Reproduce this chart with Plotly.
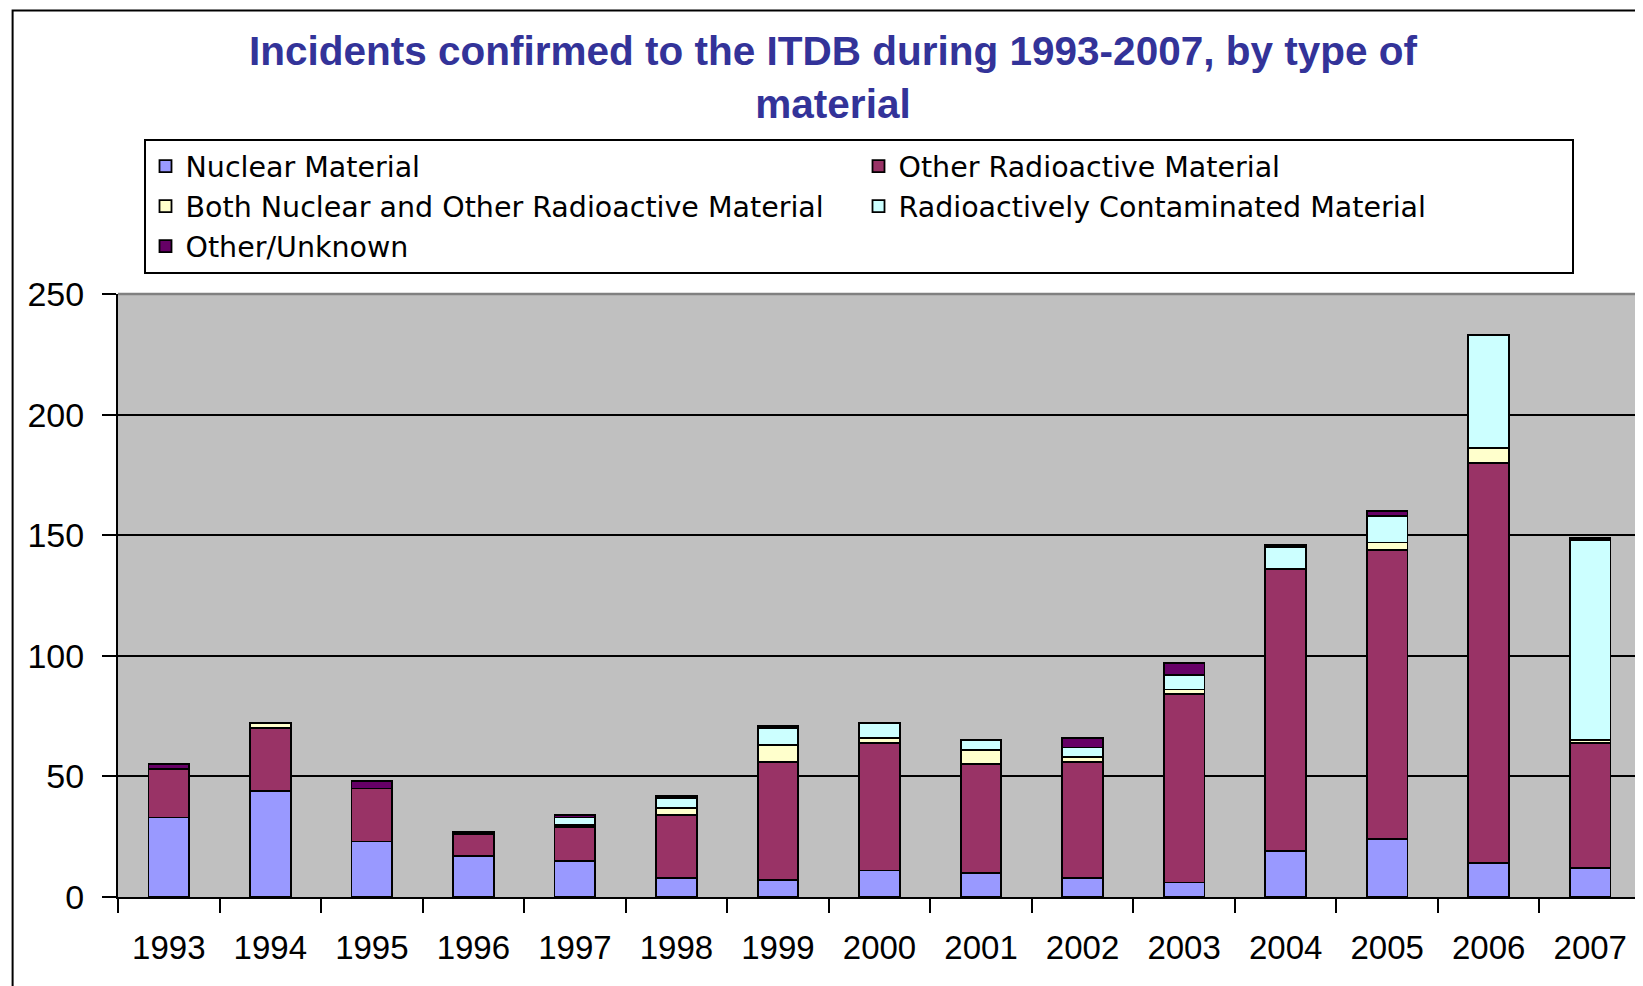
import plotly.graph_objects as go

years = ["1993", "1994", "1995", "1996", "1997", "1998", "1999", "2000",
         "2001", "2002", "2003", "2004", "2005", "2006", "2007"]
nuclear = [33, 44, 23, 17, 15, 8, 7, 11, 10, 8, 6, 19, 24, 14, 12]
other_radioactive = [20, 26, 22, 9, 14, 26, 49, 53, 45, 48, 78, 117, 120, 166, 52]
both = [0, 2, 0, 0, 1, 3, 7, 2, 6, 2, 2, 0, 3, 6, 1]
contaminated = [0, 0, 0, 0, 3, 4, 7, 6, 4, 4, 6, 9, 11, 47, 83]
other_unknown = [2, 0, 3, 1, 1, 1, 1, 0, 0, 4, 5, 1, 2, 0, 1]
y_ticks = [0, 50, 100, 150, 200, 250]

series = [
    ("Nuclear Material", nuclear, "#9999FF"),
    ("Other Radioactive Material", other_radioactive, "#993366"),
    ("Both Nuclear and Other Radioactive Material", both, "#FFFFCC"),
    ("Radioactively Contaminated Material", contaminated, "#CCFFFF"),
    ("Other/Unknown", other_unknown, "#660066"),
]

fig = go.Figure()
for name, vals, color in series:
    fig.add_trace(go.Bar(
        x=years, y=vals, name=name,
        marker=dict(color=color, line=dict(color="black", width=1.8)),
    ))

# page body has an 8px margin; work in figure pixel coordinates
OFF = 8
W, H = 1643 - OFF, 986 - OFF
L, R, T, B = 110, 2, 286, 89
pw, ph = W - L - R, H - T - B

def px_x(x):
    return (x - OFF - L) / pw

def px_y(y):
    return (H - B - (y - OFF)) / ph

fig.update_layout(
    width=W, height=H,
    barmode="stack",
    bargap=0.6,
    margin=dict(l=L, r=R, t=T, b=B, pad=0),
    paper_bgcolor="white",
    plot_bgcolor="#C0C0C0",
    font=dict(family="Liberation Sans", color="black"),
    title=dict(
        text="Incidents confirmed to the ITDB during 1993-2007, by type of<br>material",
        font=dict(family="Liberation Sans", size=40.5, color="#333399", weight="bold"),
        x=(833 - OFF) / W, xanchor="center", xref="container",
        y=1 - 57 / H, yanchor="top", yref="container",
    ),
    legend=dict(
        orientation="h",
        x=px_x(143.5), xanchor="left",
        y=px_y(139), yanchor="top",
        entrywidth=668, entrywidthmode="pixels",
        bgcolor="white", bordercolor="black", borderwidth=2,
        font=dict(family="DejaVu Sans", size=28.5, color="black"),
        traceorder="normal",
    ),
    xaxis=dict(
        type="category",
        range=[-0.5, 14.5],
        tickson="boundaries",
        ticks="outside", ticklen=14, tickwidth=2, tickcolor="black",
        showline=True, linecolor="black", linewidth=2,
        showgrid=False,
        tickfont=dict(family="Liberation Sans", size=33, color="black"),
        ticklabelstandoff=20,
    ),
    yaxis=dict(
        range=[0, 250],
        tickvals=y_ticks,
        ticks="outside", ticklen=14, tickwidth=2, tickcolor="black",
        showline=True, linecolor="black", linewidth=2,
        showgrid=True, gridcolor="black", gridwidth=1.5,
        zeroline=False,
        tickfont=dict(family="Liberation Sans", size=34, color="black"),
        ticklabelstandoff=11,
    ),
    shapes=[
        # grey frame of the plot area (top and right)
        dict(type="line", xref="paper", yref="paper", x0=0, x1=1, y0=1, y1=1,
             line=dict(color="#808080", width=2.5), layer="above"),
        dict(type="line", xref="paper", yref="paper", x0=1, x1=1, y0=0, y1=1,
             line=dict(color="#808080", width=2.5), layer="above"),
        # outer chart frame
        dict(type="rect", xref="paper", yref="paper",
             x0=px_x(12.6), x1=px_x(1680), y0=px_y(1030), y1=px_y(10.5),
             line=dict(color="black", width=2), fillcolor="rgba(0,0,0,0)",
             layer="above"),
    ],
)

fig.write_html("out.html")
